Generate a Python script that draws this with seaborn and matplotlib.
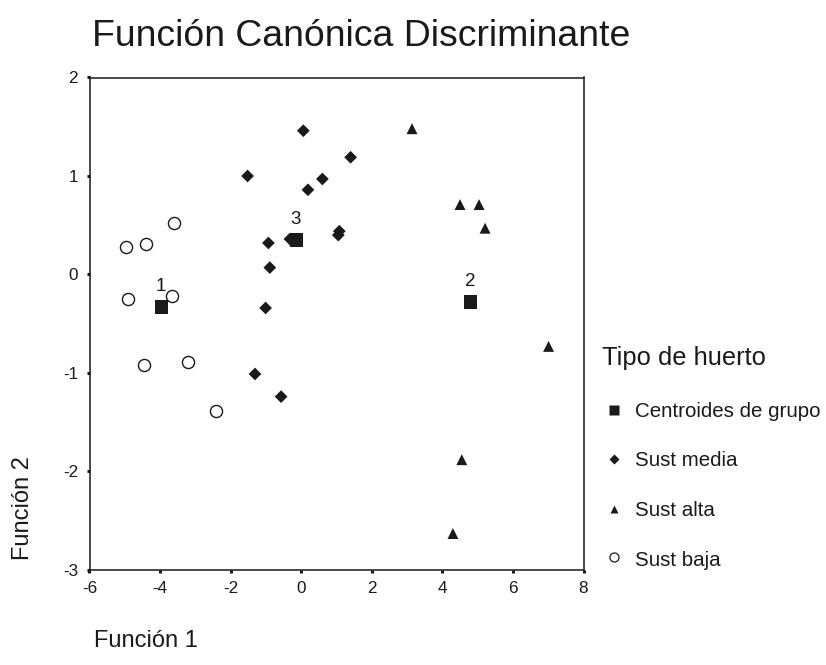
import numpy as np
import pandas as pd
import seaborn as sns
import matplotlib
matplotlib.use("Agg")
import matplotlib.pyplot as plt
from matplotlib.lines import Line2D

# ---- data ----
media_x = [-1.52, 0.06, 0.60, 0.19, 1.40, -0.93, -0.89, -1.01, -0.32, 1.05, 1.08, -1.31, -0.57]
media_y = [1.00, 1.46, 0.97, 0.86, 1.19, 0.32, 0.07, -0.34, 0.36, 0.40, 0.44, -1.01, -1.24]
alta_x = [3.14, 4.50, 5.04, 5.21, 7.01, 4.55, 4.30]
alta_y = [1.48, 0.71, 0.71, 0.47, -0.73, -1.88, -2.63]
baja_x = [-3.60, -4.96, -4.39, -4.92, -3.67, -4.46, -3.22, -2.42]
baja_y = [0.52, 0.28, 0.31, -0.25, -0.22, -0.92, -0.89, -1.39]
cent_x = [-3.95, 4.80, -0.13]
cent_y = [-0.33, -0.28, 0.35]
cent_labels = ["1", "2", "3"]

title = "Función Canónica Discriminante"
legend_title = "Tipo de huerto"
legend_labels = ["Centroides de grupo", "Sust media", "Sust alta", "Sust baja"]
xticks = [-6, -4, -2, 0, 2, 4, 6, 8]
yticks = [-3, -2, -1, 0, 1, 2]

df = pd.concat([
    pd.DataFrame({"f1": media_x, "f2": media_y, "grupo": "Sust media"}),
    pd.DataFrame({"f1": alta_x, "f2": alta_y, "grupo": "Sust alta"}),
    pd.DataFrame({"f1": baja_x, "f2": baja_y, "grupo": "Sust baja"}),
], ignore_index=True)
cent = pd.DataFrame({"f1": cent_x, "f2": cent_y, "lab": cent_labels})

sns.set_theme(style="white")
plt.rcParams["font.family"] = ["Liberation Sans", "DejaVu Sans"]
plt.rcParams["text.color"] = "#1a1a1a"

W, H = 826, 665
fig = plt.figure(figsize=(W / 100, H / 100), dpi=100)
L, R, T, B = 89.5, 583.5, 77.5, 570.0
ax = fig.add_axes([L / W, 1 - B / H, (R - L) / W, (B - T) / H])

sns.scatterplot(data=cent, x="f1", y="f2", marker="s", s=92, color="#1a1a1a",
                edgecolor="none", ax=ax, zorder=3)
sns.scatterplot(data=df[df.grupo == "Sust media"], x="f1", y="f2", marker="D", s=42,
                color="#1a1a1a", edgecolor="none", ax=ax, zorder=2)
sns.scatterplot(data=df[df.grupo == "Sust alta"], x="f1", y="f2", marker="^", s=62,
                color="#1a1a1a", edgecolor="none", ax=ax, zorder=2)
sns.scatterplot(data=df[df.grupo == "Sust baja"], x="f1", y="f2", marker="o", s=76,
                facecolor="white", edgecolor="#1a1a1a", linewidth=1.0, ax=ax, zorder=4)

for xv, yv, lab in zip(cent_x, cent_y, cent_labels):
    ax.annotate(lab, (xv, yv), xytext=(-0.5, 14.8), textcoords="offset points",
                ha="center", va="center", fontsize=13.5, color="#1a1a1a")

ax.set_xlim(-6, 8)
ax.set_ylim(-3, 2)
ax.set_xticks(xticks)
ax.set_yticks(yticks)
ax.set_xticklabels([str(v) for v in xticks])
ax.set_yticklabels([str(v) for v in yticks])
ax.set_xlabel("")
ax.set_ylabel("")
ax.tick_params(direction="out", length=2.2, width=2.2, color="#1a1a1a",
               labelsize=12.3, pad=6, labelcolor="#1a1a1a")
ax.tick_params(axis="both", which="both", bottom=True, left=True)
for sp in ax.spines.values():
    sp.set_visible(True)
    sp.set_color("#1a1a1a")
    sp.set_linewidth(1.1)
ax.grid(False)

fig.text(92 / W, 1 - 46 / H, title, fontsize=26.9, ha="left", va="baseline")
fig.text(146 / W, 1 - 641 / H, "Función 1", fontsize=17, ha="center", va="center")
fig.text(23 / W, 1 - 508 / H, "Función 2", fontsize=17, ha="center", va="center",
         rotation=90)

# legend
fig.text(601.5 / W, 1 - 358 / H, legend_title, fontsize=18.4, ha="left", va="center")
leg_marker_y = [409.5, 458.5, 508.5, 557]
leg_text_y = [411.5, 460.5, 510, 560]
leg_styles = [dict(marker="s", ms=6.7, mfc="#1a1a1a", mec="none"),
              dict(marker="D", ms=5.1, mfc="#1a1a1a", mec="none"),
              dict(marker="^", ms=5.6, mfc="#1a1a1a", mec="none"),
              dict(marker="o", ms=6.5, mfc="white", mec="#1a1a1a", mew=0.9)]
for lab, my, ty, st in zip(legend_labels, leg_marker_y, leg_text_y, leg_styles):
    fig.add_artist(Line2D([614 / W], [1 - my / H], linestyle="none",
                          transform=fig.transFigure, **st))
    fig.text(635 / W, 1 - ty / H, lab, fontsize=14.8, ha="left", va="center")

fig.savefig("out.png", dpi=100)
